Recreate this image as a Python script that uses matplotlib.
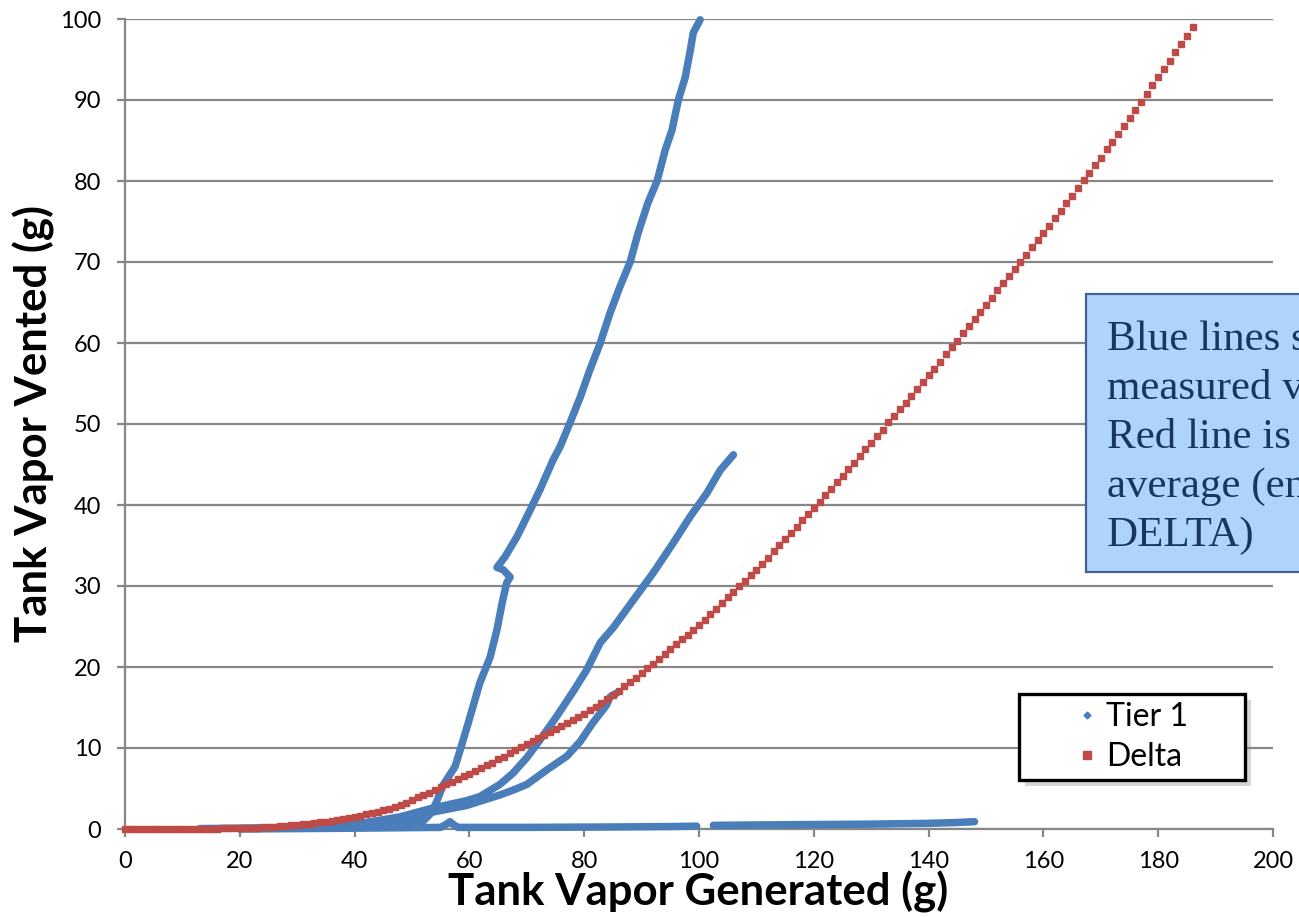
import matplotlib
matplotlib.use("Agg")
import matplotlib.pyplot as plt
from matplotlib.lines import Line2D
from matplotlib.patches import Rectangle

# Delta curve, one point per gram generated (0..186)
delta_x = list(range(0, 187))
delta_y = [
    0.0, 0.0, 0.0, 0.0, 0.0, 0.0, 0.0, 0.01, 0.01, 0.01, 0.02,
    0.02, 0.03, 0.03, 0.04, 0.05, 0.06, 0.07, 0.08, 0.09, 0.10,
    0.12, 0.14, 0.17, 0.20, 0.25, 0.29, 0.33, 0.38, 0.44, 0.50,
    0.57, 0.65, 0.72, 0.81, 0.90, 1.0, 1.1, 1.23, 1.36, 1.50,
    1.65, 1.80, 1.96, 2.13, 2.30, 2.5, 2.7, 2.95, 3.25, 3.6,
    3.9, 4.2, 4.5, 4.85, 5.2, 5.5, 5.85, 6.15, 6.5, 6.8,
    7.15, 7.5, 7.85, 8.2, 8.6, 8.95, 9.35, 9.7, 10.1, 10.5,
    10.85, 11.2, 11.6, 11.95, 12.3, 12.7, 13.05, 13.45, 13.8, 14.2,
    14.65, 15.1, 15.55, 16.0, 16.5, 17.05, 17.6, 18.15, 18.7, 19.3,
    19.85, 20.4, 21.0, 21.6, 22.2, 22.8, 23.4, 24.0, 24.6, 25.2,
    25.85, 26.55, 27.2, 27.9, 28.6, 29.25, 29.95, 30.6, 31.3, 32.0,
    32.75, 33.5, 34.3, 35.05, 35.8, 36.55, 37.3, 38.1, 38.85, 39.6,
    40.4, 41.2, 42.0, 42.8, 43.6, 44.4, 45.2, 46.1, 46.9, 47.7,
    48.5, 49.3, 50.2, 51.0, 51.8, 52.6, 53.5, 54.3, 55.2, 56.0,
    56.85, 57.7, 58.6, 59.45, 60.3, 61.2, 62.05, 62.95, 63.8, 64.7,
    65.6, 66.5, 67.35, 68.25, 69.1, 70.0, 70.9, 71.8, 72.7, 73.6,
    74.5, 75.45, 76.35, 77.3, 78.2, 79.15, 80.1, 81.0, 81.95, 82.9,
    83.9, 84.85, 85.85, 86.8, 87.8, 88.8, 89.8, 90.8, 91.8, 92.8,
    93.85, 94.85, 95.9, 96.9, 97.95, 99.0,
]

# Tier 1 test runs (measured)
run1_x = [13, 20, 30, 40, 46, 50, 52, 53.1, 54.2, 55.4, 57.5, 58.5, 59.8, 61.8,
          63.6, 64.8, 65.7, 66.5, 67.1, 65.9, 64.8, 66.2, 68.3, 70.6, 72.3, 74.6,
          75.8, 77.5, 79.3, 81.0, 82.8, 84.5, 86.2, 88.0, 89.4, 91.1, 92.7, 94.1,
          95.3, 96.4, 97.6, 98.5, 99.0, 100.2]
run1_y = [0.05, 0.1, 0.2, 0.35, 0.5, 0.7, 1.0, 1.8, 3.2, 5.4, 7.7, 10.0, 13.1, 18.0,
          21.2, 24.6, 27.9, 30.4, 31.1, 32.0, 32.3, 33.6, 36.1, 39.4, 41.9, 45.6,
          47.2, 50.1, 53.3, 56.7, 60.0, 63.7, 66.9, 70.0, 73.6, 77.3, 80.0, 83.8,
          86.3, 90.0, 92.8, 96.2, 98.3, 99.9]

run2_x = [25, 35, 42, 47.9, 53.7, 59.5, 61.8, 65.3, 67.6, 70.0, 72.3, 75.2, 78.1,
          80.4, 82.8, 85.1, 88.6, 92.0, 95.5, 98.4, 101.4, 103.7, 106.0]
run2_y = [0.1, 0.3, 0.8, 1.5, 2.6, 3.5, 4.0, 5.5, 6.9, 8.8, 11.0, 13.9, 17.0,
          19.6, 23.0, 24.9, 28.3, 31.6, 35.3, 38.5, 41.5, 44.3, 46.2]

run3_x = [20, 30, 40, 47.9, 53.7, 59.5, 65.3, 67.6, 70.0, 73.5, 77.0, 79.3,
          81.5, 83.9, 84.5, 85.7]
run3_y = [0.05, 0.15, 0.4, 1.1, 2.1, 2.9, 4.2, 4.8, 5.5, 7.3, 9.0, 10.8,
          13.1, 15.3, 16.3, 16.8]

run4_x = [20, 40, 55, 56.0, 56.6, 57.3, 58, 70, 85, 95, 99.6]
run4_y = [0.0, 0.1, 0.2, 0.6, 0.9, 0.5, 0.2, 0.2, 0.25, 0.3, 0.35]

run5_x = [102.5, 110, 120, 130, 140, 145, 148]
run5_y = [0.45, 0.5, 0.55, 0.6, 0.7, 0.8, 0.9]

blue = "#4A7EBB"
red = "#BE4B48"
grey = "#878787"

plt.rcParams["font.family"] = ["Lato", "DejaVu Sans"]

fig = plt.figure(figsize=(12.99, 9.17), dpi=100)
ax = fig.add_axes([125 / 1299, 1 - 829 / 917, 1148 / 1299, 810 / 917])

for xs, ys in [(run4_x, run4_y), (run5_x, run5_y), (run3_x, run3_y),
               (run2_x, run2_y), (run1_x, run1_y)]:
    ax.plot(xs, ys, color=blue, lw=5.4, solid_capstyle="round",
            solid_joinstyle="round", clip_on=False, zorder=3)

ax.plot(delta_x, delta_y, ls="none", marker="s", ms=5, color=red,
        mec=red, clip_on=False, zorder=4)

ax.set_xlim(0, 200)
ax.set_ylim(0, 100)
ax.set_xticks(range(0, 201, 20))
ax.set_yticks(range(0, 101, 10))
ax.grid(axis="y", color=grey, lw=1.6)
ax.set_axisbelow(True)
for s in ["top", "right"]:
    ax.spines[s].set_visible(False)
for s in ["left", "bottom"]:
    ax.spines[s].set_color(grey)
    ax.spines[s].set_linewidth(1.6)
ax.tick_params(axis="both", direction="out", length=6, width=1.6, color=grey,
               labelsize=17)
ax.tick_params(axis="x", pad=10)
ax.tick_params(axis="y", pad=11)

ax.set_xlabel("Tank Vapor Generated (g)", fontsize=31.5, fontweight="bold")
ax.set_ylabel("Tank Vapor Vented (g)", fontsize=31.5, fontweight="bold")
ax.xaxis.set_label_coords(0.4996, -0.052)
ax.yaxis.set_label_coords(-0.061, 0.5)

# legend box drawn by hand (Excel style)
lx0, ly0, lw, lh = 1019 / 1299, 1 - 780 / 917, 226 / 1299, 86 / 917
fig.add_artist(Rectangle((lx0 + 6 / 1299, ly0 - 6 / 917), lw, lh,
                         transform=fig.transFigure, facecolor="0.55",
                         edgecolor="none", alpha=0.35, zorder=3))
fig.add_artist(Rectangle((lx0, ly0), lw, lh, transform=fig.transFigure,
                         facecolor="white", edgecolor="black", lw=2.4, zorder=3))
handles = [Line2D([], [], ls="none", marker="D", ms=3.5, color=blue),
           Line2D([], [], ls="none", marker="s", ms=6, color=red)]
leg = fig.legend(handles, ["Tier 1", "Delta"], loc="center left",
                 bbox_to_anchor=(1055 / 1299, 1 - 737 / 917), frameon=False,
                 fontsize=23, borderpad=0, handlelength=1.0, handletextpad=0.1,
                 labelspacing=0.32)
leg.set_zorder(6)

# note box, runs off the right edge
fig.add_artist(Rectangle((1086 / 1299, 1 - 572 / 917), 0.3, 278 / 917,
                         transform=fig.transFigure, facecolor="#AED4FB",
                         edgecolor="#3F6494", lw=1.6, zorder=3))
note = ["Blue lines show", "measured values", "Red line is the",
        "average (entered in", "DELTA)"]
for i, line in enumerate(note):
    fig.text(1107 / 1299, 1 - (350 + 49 * i) / 917, line, fontsize=31,
             family="Liberation Serif", color="#17375E", va="baseline",
             zorder=4)

fig.savefig("out.png", dpi=100)
